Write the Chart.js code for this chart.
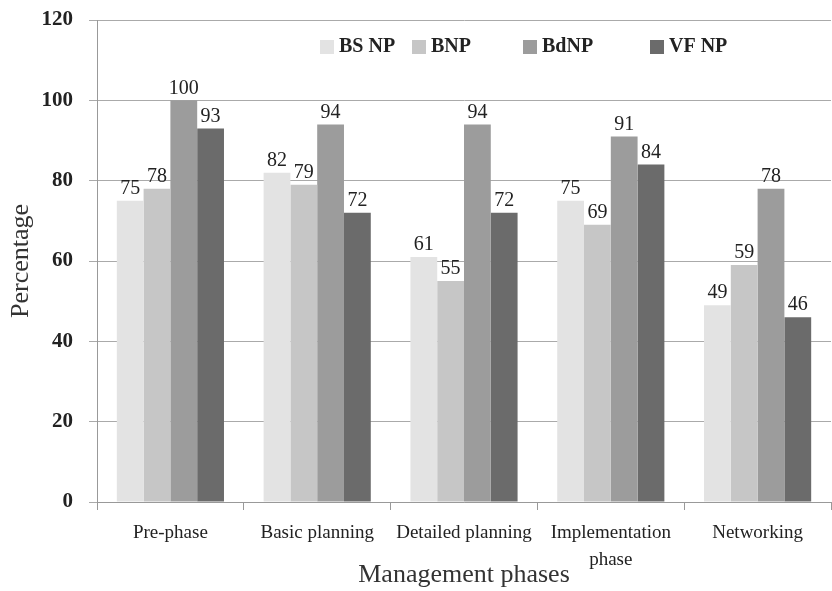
<!DOCTYPE html>
<html>
<head>
<meta charset="utf-8">
<script src="https://cdn.jsdelivr.net/npm/chart.js@4/dist/chart.umd.min.js"></script>
<style>
    html, body { margin: 0; padding: 0; background: #fff; }
    #wrap { width: 832px; height: 591px; }
</style>
</head>
<body>
<div id="wrap"><canvas id="myChart"></canvas></div>
<script>
const phases = ['Pre-phase', 'Basic planning', 'Detailed planning', ['Implementation', 'phase'], 'Networking'];
const seriesNames = ['BS NP', 'BNP', 'BdNP', 'VF NP'];
const bsNp = [75, 82, 61, 75, 49];
const bnp = [78, 79, 55, 69, 59];
const bdNp = [100, 94, 94, 91, 78];
const vfNp = [93, 72, 72, 84, 46];
const yTicks = [0, 20, 40, 60, 80, 100, 120];

const colors = ['#e3e3e3', '#c6c6c6', '#9c9c9c', '#6b6b6b'];
const serif = '"Liberation Serif", "DejaVu Serif", serif';

// value labels above each bar
const barLabels = {
    id: 'barLabels',
    afterDatasetsDraw(chart) {
        const ctx = chart.ctx;
        ctx.save();
        ctx.font = '20px ' + serif;
        ctx.fillStyle = '#222';
        ctx.textAlign = 'center';
        ctx.textBaseline = 'bottom';
        chart.data.datasets.forEach((ds, i) => {
            chart.getDatasetMeta(i).data.forEach((bar, j) => {
                ctx.fillText(ds.data[j], bar.x, bar.y - 2);
            });
        });
        ctx.restore();
    }
};

// legend drawn inside the plot, top right
const innerLegend = {
    id: 'innerLegend',
    afterDraw(chart) {
        const ctx = chart.ctx;
        const area = chart.chartArea;
        const offsets = [223, 315, 426, 553];
        ctx.save();
        ctx.font = 'bold 20px ' + serif;
        ctx.textBaseline = 'middle';
        ctx.textAlign = 'left';
        chart.data.datasets.forEach((ds, i) => {
            const x = area.left + offsets[i];
            const y = area.top + 27;
            ctx.fillStyle = ds.backgroundColor;
            ctx.fillRect(x, y - 7, 14, 14);
            ctx.fillStyle = '#222';
            ctx.fillText(ds.label, x + 19, y);
        });
        ctx.restore();
    }
};

const values = [bsNp, bnp, bdNp, vfNp];

new Chart(document.getElementById('myChart').getContext('2d'), {
    type: 'bar',
    data: {
        labels: phases,
        datasets: seriesNames.map((name, i) => ({
            label: name,
            data: values[i],
            backgroundColor: colors[i],
            borderWidth: 0,
            barPercentage: 1,
            categoryPercentage: 0.73
        }))
    },
    options: {
        responsive: true,
        maintainAspectRatio: false,
        animation: false,
        layout: { padding: { top: 20, right: 1, left: 0, bottom: 0 } },
        plugins: {
            legend: { display: false },
            tooltip: { enabled: false }
        },
        scales: {
            x: {
                grid: { drawOnChartArea: false, drawTicks: true, tickLength: 8, offset: true, color: '#999' },
                border: { color: '#999' },
                ticks: {
                    color: '#222',
                    padding: 10,
                    maxRotation: 0,
                    font: { family: serif, size: 19, lineHeight: 1.4 }
                },
                title: {
                    display: true,
                    text: 'Management phases',
                    color: '#333',
                    font: { family: serif, size: 26 },
                    padding: { top: 0, bottom: 0 }
                },
                afterFit(scale) {
                    scale.height = 89;
                    scale.paddingLeft = 0;
                    scale.paddingRight = 0;
                }
            },
            y: {
                min: 0,
                max: 120,
                afterBuildTicks(scale) { scale.ticks = yTicks.map(v => ({ value: v })); },
                grid: { color: '#aaa', tickLength: 8, drawTicks: true },
                border: { color: '#999' },
                ticks: {
                    color: '#222',
                    padding: 16,
                    font: { family: serif, size: 21, weight: 'bold' }
                },
                title: {
                    display: true,
                    text: 'Percentage',
                    color: '#333',
                    font: { family: serif, size: 26 },
                    padding: { top: 6, bottom: 0 }
                },
                afterFit(scale) {
                    scale.width = 97;
                    scale.paddingTop = 0;
                    scale.paddingBottom = 0;
                }
            }
        }
    },
    plugins: [barLabels, innerLegend]
});
</script>
</body>
</html>
